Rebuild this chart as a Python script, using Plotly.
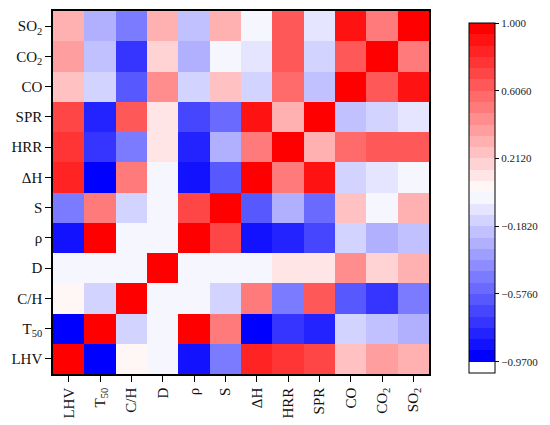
import plotly.graph_objects as go

labels = ["LHV", "T<sub>50</sub>", "C/H", "D", "ρ", "S", "ΔH", "HRR", "SPR",
          "CO", "CO<sub>2</sub>", "SO<sub>2</sub>"]

# correlation matrix, rows/cols in label order (row 0 = bottom row)
corr = [
    [1.00, -0.95, 0.05, -0.02, -0.87, -0.48, 0.84, 0.77, 0.70, 0.25, 0.38, 0.31],
    [-0.95, 1.00, -0.15, -0.02, 0.96, 0.51, -0.95, -0.74, -0.80, -0.15, -0.21, -0.28],
    [0.05, -0.15, 1.00, -0.02, -0.02, -0.15, 0.51, -0.48, 0.64, -0.61, -0.74, -0.48],
    [-0.02, -0.02, -0.02, 1.00, -0.02, -0.02, -0.02, 0.11, 0.11, 0.44, 0.18, 0.31],
    [-0.87, 0.96, -0.02, -0.02, 1.00, 0.70, -0.87, -0.80, -0.67, -0.15, -0.28, -0.21],
    [-0.48, 0.51, -0.15, -0.02, 0.70, 1.00, -0.61, -0.28, -0.54, 0.25, -0.02, 0.31],
    [0.84, -0.95, 0.51, -0.02, -0.87, -0.61, 1.00, 0.51, 0.90, -0.15, -0.08, -0.02],
    [0.77, -0.74, -0.48, 0.11, -0.80, -0.28, 0.51, 1.00, 0.31, 0.57, 0.64, 0.64],
    [0.70, -0.80, 0.64, 0.11, -0.67, -0.54, 0.90, 0.31, 1.00, -0.21, -0.15, -0.08],
    [0.25, -0.15, -0.61, 0.44, -0.15, 0.25, -0.15, 0.57, -0.21, 1.00, 0.64, 0.90],
    [0.38, -0.21, -0.74, 0.18, -0.28, -0.02, -0.08, 0.64, -0.15, 0.64, 1.00, 0.51],
    [0.31, -0.28, -0.48, 0.31, -0.21, 0.31, -0.02, 0.64, -0.08, 0.90, 0.51, 1.00],
]

tick_vals = [1.0, 0.606, 0.212, -0.182, -0.576, -0.97]
tick_text = ["1.000", "0.6060", "0.2120", "\u22120.1820", "\u22120.5760", "\u22120.9700"]

# discrete bwr colour scale: 30 levels from -0.97 to 1.0, plus a white band below
vmin, vmax, nlev = -0.97, 1.0, 30
step = (vmax - vmin) / nlev
zmin = vmin - step
zmax = vmax


def bwr(t):
    if t < 0.5:
        v = round(510 * t)
        return f"rgb({v},{v},255)"
    v = round(510 * (1 - t))
    return f"rgb(255,{v},{v})"


def norm(v):
    return (v - zmin) / (zmax - zmin)


cs = [[0.0, "white"], [norm(vmin), "white"]]
for k in range(nlev):
    c = bwr(k / (nlev - 1))
    lo = norm(vmin + k * step)
    hi = norm(vmin + (k + 1) * step)
    cs.append([lo, c])
    cs.append([min(hi, 1.0), c])
cs[-1][0] = 1.0

font_family = "Liberation Serif"

# the page body adds an 8px offset; compensate
OFF = 8
W, H = 550 - OFF, 425 - OFF
L, R, T, B = 53 - OFF, 121, 11 - OFF, 51
pw, ph = W - L - R, H - T - B

fig = go.Figure(go.Heatmap(
    z=corr, x=labels, y=labels,
    zmin=zmin, zmax=zmax, colorscale=cs,
    colorbar=dict(
        tickvals=tick_vals, ticktext=tick_text,
        ticks="outside", ticklen=4, tickwidth=1, tickcolor="black",
        thickness=26, thicknessmode="pixels",
        len=350, lenmode="pixels",
        x=(469 - 53) / pw, xanchor="left", xpad=0,
        y=1 - (23 - 11) / ph, yanchor="top", ypad=0,
        outlinewidth=1, outlinecolor="black",
        tickfont=dict(family=font_family, size=11, color="#222"),
    ),
))

fig.update_layout(
    width=W, height=H,
    margin=dict(l=L, r=R, t=T, b=B, autoexpand=False),
    paper_bgcolor="white", plot_bgcolor="white",
    font=dict(family=font_family, size=15, color="#111"),
)
fig.update_xaxes(
    tickangle=-90, ticks="outside", ticklen=6, tickwidth=1.3, tickcolor="black",
    showline=True, linewidth=1.5, linecolor="black", mirror=True,
    showgrid=False, zeroline=False, automargin=False,
)
fig.update_yaxes(
    ticks="outside", ticklen=6, tickwidth=1.3, tickcolor="black",
    showline=True, linewidth=1.5, linecolor="black", mirror=True,
    showgrid=False, zeroline=False, automargin=False,
)

fig.write_html("out.html")
